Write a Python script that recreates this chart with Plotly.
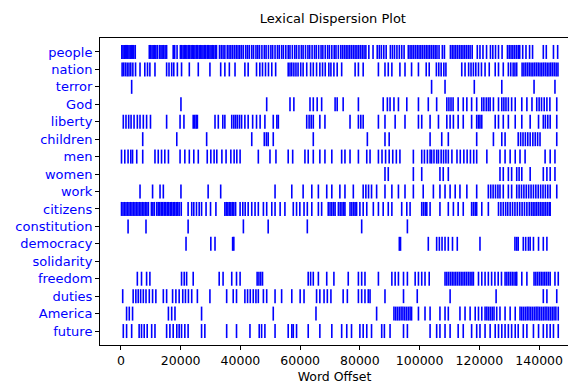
import plotly.graph_objects as go

words = ["people", "nation", "terror", "God", "liberty", "children", "men", "women",
         "work", "citizens", "constitution", "democracy", "solidarity", "freedom",
         "duties", "America", "future"]

people = [300, 700, 1100, 1500, 1900, 2300, 2700, 3100, 3500, 3900, 4300, 4800,
          9500, 9900, 10400, 10800, 11300, 11700, 12200, 12900, 13400, 13800, 14300, 14800, 15300,
          17500, 18000, 18800,
          19900, 20300, 20800, 21200, 21700, 22100, 22600, 23000, 23500, 23900, 24400, 24800, 25300,
          25700, 26200, 26600, 27100, 27500, 28000, 28400, 28900, 29300, 29800, 30200, 30700, 31100,
          31600, 32000,
          33000, 33600, 34200, 34800, 35600, 36200, 36800, 37400, 38000, 38600, 39200, 39800, 40400,
          41000, 41800, 42400, 43000, 43800, 44400, 45200, 45800, 46400, 47200, 48000, 48600, 49400,
          50200, 50800, 51600, 52400, 53000, 53800, 54400, 55200, 56000, 56600, 57400, 58200, 58800,
          59600, 60400, 61000, 61800, 62600, 63200, 64000, 64800, 65400, 66200, 67000, 67600, 68400,
          69200, 69800, 70600, 71400, 72000, 72800,
          73600, 74200, 74800, 75400, 76000, 76600, 77200, 77800, 78400, 79000, 79600, 80200, 80800,
          81400, 82000, 83000, 84400, 85800, 86500, 87200, 88000, 88800,
          90200, 90900, 91600, 92400, 93200, 94000, 94800,
          96200, 96800, 97400, 98000, 98600, 99200, 99800, 100400, 101000, 101600, 102200, 102800,
          103400, 104000, 104600, 105200, 105800, 106500, 107600, 108300,
          110300, 110900, 111500, 112100, 112700, 113300, 113900, 114500, 115100, 115700, 116300,
          116900, 117600, 119300, 120200, 121200, 122400, 123700, 124500, 125400, 126400, 127600,
          129400, 130000, 130600, 131200, 131800, 132400, 133000, 133500, 134500, 135600, 136800,
          137800, 141400, 142400, 144800, 146200]

nation = [400, 900, 1500, 2100, 2700, 3300, 4000, 4900, 6400, 8000, 8900, 9700, 11400, 15300,
          16100, 17000, 17700, 18900, 20300, 22900, 25900, 29800, 33400, 34800, 36300, 38200, 41500,
          42600, 45400, 46500, 47400, 48400, 49400, 50500, 51800, 56000, 56600, 57200, 57900, 58600,
          59300, 60200, 61000, 62200, 63500, 64400, 65500, 66600, 67500, 68400, 69600,
          70300, 71300, 72400, 73900, 78400, 79500, 81100, 86200, 88400, 89500, 90700, 93400, 95100,
          97300, 99600, 102200, 103200, 105600, 106400, 107200, 108100, 108800, 114100, 115200,
          116400, 117200, 118000, 118800, 119700, 120700, 121900, 123300, 125300, 126400, 128000,
          129700, 130500, 131300, 131900, 132500, 134300, 134900, 135500, 136100, 136700, 137300,
          137900, 138500, 139100, 139700, 140300, 140900, 141500, 142100, 142700, 143300, 143900,
          144500, 145100, 145700, 146300]

terror = [3600, 104000, 108500, 118300, 127500, 138300, 145300]

god = [20100, 48800, 56600, 57900, 63300, 64400, 65700, 67200, 71700, 72400, 74400, 79500, 87800,
       89200, 90100, 91400, 92900, 95700, 99600, 102900, 105700, 109100, 109800, 110500, 111200,
       112900, 114600, 115800, 117400, 119100, 120800, 121500, 122300, 123000, 123600, 124700,
       126400, 127500, 128200, 128900, 129700, 130800, 132000, 134200, 135900, 137600, 139200,
       140000, 140800, 141700, 142600, 143600, 145900]

liberty = [800, 1700, 2600, 3400, 4400, 5500, 6400, 7500, 8600, 9900, 15300, 19800, 21100, 24200,
           24700, 25200, 25600, 31500, 32600, 34100, 34800, 37100, 37800, 38400, 39000, 39700,
           40400, 41500, 42600, 44100, 45400, 46600, 48200, 51000, 52200, 52700, 62200, 63000,
           63700, 64400, 66600, 68300, 76700, 79500, 80300, 81100, 86200, 88400, 91800, 95100,
           99600, 100700, 103500, 106300, 109100, 110200, 111300, 112900, 114600, 117400, 119100,
           119700, 120200, 120800, 125300, 126400, 128000, 129700, 132000, 134200, 137000, 139800,
           141400, 142100, 142900, 143700, 145900]

children = [7300, 18700, 28700, 43800, 48000, 48700, 49300, 51000, 64400, 82500, 88400, 89800,
            103500, 107400, 109600, 119100, 124700, 127500, 128600, 133000, 133800, 134600,
            135400, 136200, 137000, 137900, 138700, 139500, 140300, 145900]

men = [200, 1300, 2400, 3300, 3900, 5300, 7300, 11400, 12500, 13600, 14700, 15900, 19800, 21400,
       22900, 24400, 25900, 28900, 30100, 31200, 32100, 33800, 35200, 36800, 37900, 38800, 39900,
       46000, 49900, 51900, 56000, 57500, 61600, 62700, 64400, 66600, 68300, 70600, 73900, 75000,
       76700, 79500, 82300, 83400, 86200, 87400, 88600, 89800, 91000, 92200, 93400, 97900, 100700,
       101600, 102600, 103500, 104000, 104800, 105700, 106300, 107200, 108000, 108800, 109600,
       110800, 112500, 113600, 114800, 115900, 117000, 118100, 119100, 122500, 126900, 128600,
       130300, 132000, 133600, 135300, 142000, 143700, 145300]

women = [88400, 89500, 97900, 100700, 106800, 107900, 109600, 126900, 128000, 129700, 130800,
         132500, 133300, 134200, 137000, 141400, 142600, 143700, 145300]

work = [6400, 10600, 13100, 14200, 20100, 29200, 33400, 51600, 57200, 61000, 63900, 66100, 68900,
        70600, 73300, 75000, 77800, 81100, 82000, 82900, 83900, 85600, 88400, 90700, 92900, 95100,
        97900, 101200, 104600, 106800, 108500, 110200, 111900, 113500, 115800, 119100, 123000,
        123800, 124600, 125400, 126200, 126900, 128000, 129700, 130800, 132500, 133300, 134100,
        134900, 135700, 136500, 137300, 138100, 138900, 139700, 140500, 141300, 142100, 142900,
        143700, 145900]

citizens = [200, 700, 1200, 1700, 2200, 2700, 3200, 3700, 4200, 4700, 5200, 5700, 6200, 6700,
            7200, 7700, 8200, 8700, 9200, 10200, 10700, 11200, 12000, 12500, 13000, 13500, 14000,
            14500, 15000, 15500, 16000, 16500, 17000, 17500, 18000, 18500, 19000, 19500, 20200,
            22500, 23700, 24400, 25300, 26200, 27000, 28500, 30000, 31800, 34800, 35300, 35800,
            36300, 36800, 37300, 37800, 38400, 39900, 40800, 41600, 42600, 43800, 44900, 46000,
            47700, 48800, 50500, 51600, 53300, 54900, 57700, 58800, 59900, 61300, 62400, 63900,
            66100, 67200, 69400, 70000, 70600, 71200, 71700, 72800, 73400, 74000, 74600, 75000,
            76700, 77300, 77900, 78400, 78900, 80000, 81100, 82300, 84500, 86200, 87800, 89500,
            90700, 94000, 95700, 96800, 100700, 101300, 101900, 102400, 103500, 106800, 109600,
            111300, 112900, 114600, 117400, 118000, 118600, 119100, 120800, 123000, 126400,
            127200, 128000, 128800, 129500, 130300, 131100, 131900, 132700, 133500, 134300,
            135100, 135900, 136700, 137400, 138000, 138600, 139200, 139800, 140400, 141000,
            141600, 142200, 142800, 143400, 143700]

constitution = [2400, 8400, 22500, 41000, 49300, 62400, 80600, 95900]

democracy = [21800, 30100, 31500, 37400, 37800, 93200, 93600, 102900, 105700, 106600, 107500,
             108500, 109600, 111000, 112600, 120200, 131900, 132500, 133000, 134700, 135500,
             136400, 137000, 138100, 139800, 141400, 142600]

solidarity = []

freedom = [5500, 6900, 8600, 9700, 20300, 21200, 22000, 24200, 32900, 34200, 37100, 38700, 39900,
           45600, 46200, 46800, 47400, 62700, 63500, 64400, 66100, 68900, 71300, 76100, 79500,
           80600, 81700, 86200, 90700, 91800, 92900, 94600, 95900, 98500, 99600, 100700, 101800,
           103200, 108500, 109100, 109700, 110300, 110900, 111500, 112100, 112700, 113300,
           113900, 114500, 115100, 115700, 116300, 116900, 117500, 118000, 119700, 120800,
           121900, 123000, 124100, 125200, 126300, 127400, 128600, 129200, 129800, 130400,
           131000, 131600, 132200, 132500, 134200, 135900, 138300, 138900, 139500, 140100,
           140700, 141300, 141900, 142500, 143100, 143700, 145300, 146400]

duties = [600, 4100, 5000, 5800, 6600, 7500, 8400, 9500, 10600, 11700, 14200, 15300, 17300, 18400,
          19500, 20700, 21600, 22600, 23700, 25600, 29800, 35400, 37600, 38700, 41500, 42400,
          43300, 44300, 45200, 46000, 47700, 48800, 51600, 53800, 57200, 60000, 61300, 65500,
          66600, 68000, 69100, 70300, 74400, 75800, 79500, 80600, 81700, 82800, 83400, 88400,
          94600, 99200, 110200, 125600, 141400, 142600, 145900]

america = [1900, 2800, 3900, 15900, 17000, 18100, 27000, 51000, 65300, 85600, 91400, 92000, 92600,
           93200, 93800, 94400, 95000, 95600, 96200, 96800, 97300, 99600, 101800, 103500, 106800,
           108500, 109600, 113500, 115200, 116900, 118600, 119700, 120800, 121900, 122500, 123100,
           123700, 124300, 124900, 125800, 126900, 128600, 130300, 132000, 133600, 134200, 134800,
           135400, 136000, 136600, 137200, 137800, 138400, 139000, 139600, 140200, 140800,
           141400, 142000, 142600, 143200, 143800, 144400, 145000, 145600, 146400]

future = [800, 1900, 3600, 6100, 6900, 7800, 8800, 10300, 11400, 15300, 16400, 17500, 18700,
          19500, 20300, 21400, 22500, 27000, 28100, 35400, 38700, 43200, 46300, 47100, 48200,
          51600, 56000, 57200, 57700, 58800, 62700, 66600, 70600, 73900, 75600, 77200, 80000,
          81100, 82300, 83900, 87300, 88200, 90100, 94600, 95900, 103500, 105700, 106800, 108500,
          110200, 112900, 114600, 117400, 119100, 120200, 121900, 123600, 125300, 126400, 127500,
          128600, 129700, 130800, 132000, 133000, 134700, 135900, 138100, 139800, 141400, 142600,
          143700, 144800, 146400]

offsets = [people, nation, terror, god, liberty, children, men, women, work, citizens,
           constitution, democracy, solidarity, freedom, duties, america, future]

x_ticks = [0, 20000, 40000, 60000, 80000, 100000, 120000, 140000]

n = len(words)
xs, ys = [], []
for i, offs in enumerate(offsets):
    row = n - 1 - i
    xs.extend(offs)
    ys.extend([row] * len(offs))

fig = go.Figure()
fig.add_trace(go.Scatter(
    x=xs, y=ys, mode="markers",
    marker=dict(symbol="line-ns", size=10, color="blue",
                line=dict(color="blue", width=1.6)),
    hoverinfo="x+y", showlegend=False))

fig.update_layout(
    width=568, height=384,
    margin=dict(l=92, r=7, t=30, b=47),
    paper_bgcolor="white", plot_bgcolor="white",
    font=dict(family="DejaVu Sans", size=13, color="black"),
    title=dict(text="Lexical Dispersion Plot", x=0.572, xanchor="center",
               y=0.974, yanchor="middle", font=dict(size=13, color="black")),
    xaxis=dict(range=[-7000, 150000], tickvals=x_ticks,
               ticktext=[str(v) for v in x_ticks],
               showgrid=False, zeroline=False, showline=True, mirror=True,
               linecolor="black", linewidth=1, ticks="outside", ticklen=4,
               tickcolor="black", tickfont=dict(size=12.5, color="black"),
               title=dict(text="Word Offset", font=dict(size=12.5), standoff=5)),
    yaxis=dict(range=[-0.8, 16.8], tickvals=list(range(n)),
               ticktext=list(reversed(words)),
               showgrid=False, zeroline=False, showline=True, mirror=True,
               linecolor="black", linewidth=1, ticks="outside", ticklen=4,
               tickcolor="black", tickfont=dict(size=13, color="blue")),
)

fig.write_html("out.html")
